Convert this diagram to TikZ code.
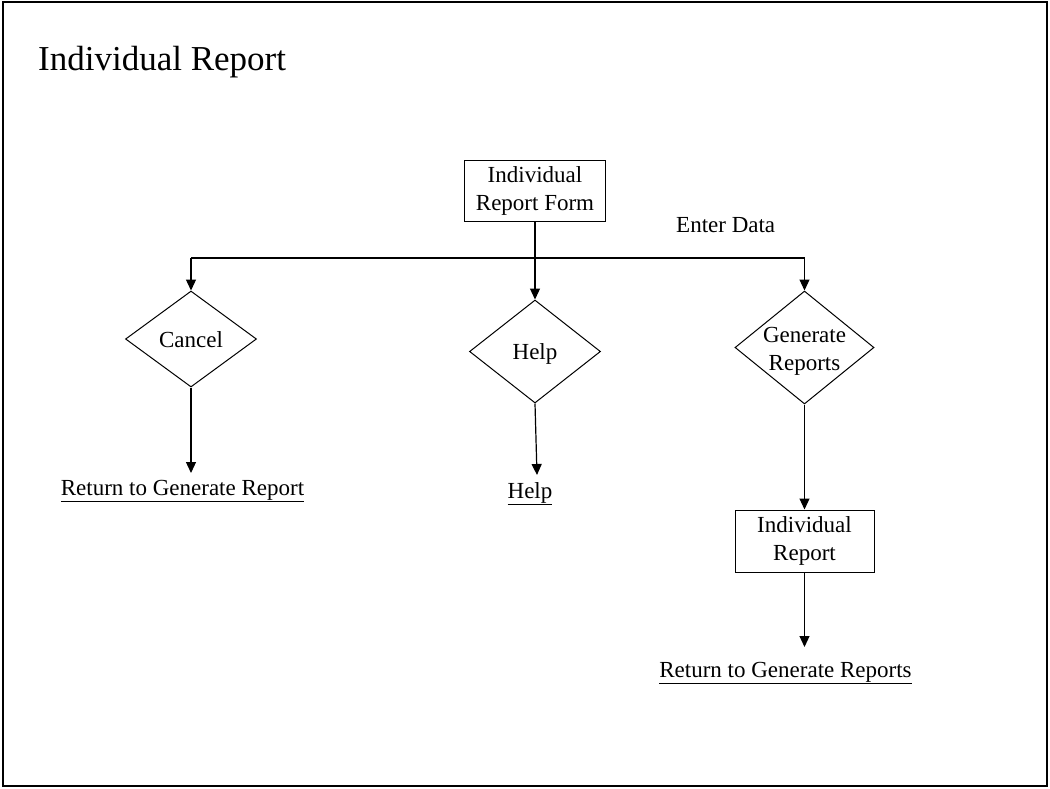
\documentclass[tikz,border=0pt]{standalone}
\usepackage{fontspec}
\setmainfont{Liberation Serif}
\usetikzlibrary{shapes.geometric,arrows.meta}
\begin{document}
\begin{tikzpicture}[x=1pt,y=-1pt,
  lbl/.style={font=\fontsize{23}{28}\selectfont, align=center},
  boxnode/.style={draw, line width=1pt, inner sep=0pt, lbl},
  decision/.style={draw, diamond, line width=1pt, inner sep=0pt},
  conn/.style={line width=1.2pt},
  arr/.style={conn, -{Triangle[length=11pt,width=10pt]}}]
\useasboundingbox (0,0) rectangle (1050,788);
\draw[line width=2pt] (3,2) rectangle (1047,786);
\node[anchor=base west, font=\fontsize{35}{42}\selectfont, inner sep=0pt] (title) at (38,70) {Individual Report};

\node[boxnode, minimum width=141pt, minimum height=61pt] (form) at (535,190.5) {Individual\\Report Form};
\node[lbl, anchor=base west, inner sep=0pt] (enter) at (676,232) {Enter Data};

\node[decision, minimum width=131pt, minimum height=96pt,
  label={[lbl, yshift=-1pt]center:Cancel}] (cancel) at (191,339) {};
\node[decision, minimum width=131pt, minimum height=103pt,
  label={[lbl, yshift=-2pt]center:Help}] (help) at (535,351.5) {};
\node[decision, minimum width=139pt, minimum height=113pt,
  label={[lbl, yshift=-4pt]center:Generate\\Reports}] (gen) at (804.5,347.5) {};

\node[boxnode, minimum width=139pt, minimum height=62pt] (irep) at (804.5,541) {Individual\\Report};

\node[lbl, anchor=base, inner sep=0pt] (ret1) at (182.5,495) {\underline{Return to Generate Report}};
\node[lbl, anchor=base, inner sep=0pt] (hlink) at (530,498) {\underline{Help}};
\node[lbl, anchor=base, inner sep=0pt] (ret2) at (785.5,677) {\underline{Return to Generate Reports}};

\coordinate (jl) at (191,258);
\coordinate (jr) at (804.5,258);
\coordinate (c1) at (191,473);
\coordinate (h1) at (537,475);
\coordinate (r2) at (804.5,647);

\draw[conn] (jl) -- (jr);
\draw[arr] (form.south) -- (help.north);
\draw[arr] (jl) -- (cancel.north);
\draw[arr] (jr) -- (gen.north);
\draw[arr] (cancel.south) -- (c1);
\draw[arr] (help.south) -- (h1);
\draw[arr] (gen.south) -- (irep.north);
\draw[arr] (irep.south) -- (r2);
\end{tikzpicture}
\end{document}
